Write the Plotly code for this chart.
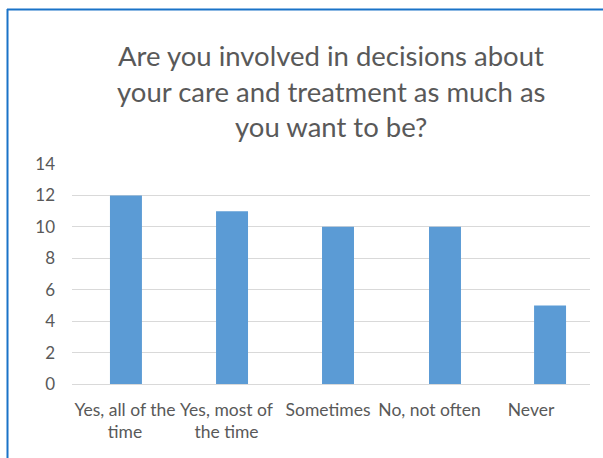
import plotly.graph_objects as go

# Survey responses
categories = ["Yes, all of the<br>time", "Yes, most of<br>the time", "Sometimes", "No, not often", "Never"]
counts = [12, 11, 10, 10, 5]
y_ticks = [0, 2, 4, 6, 8, 10, 12, 14]
title_lines = [
    "Are you involved in decisions about",
    "your care and treatment as much as",
    "you want to be?",
]

# Horizontal shift of each bar relative to its label (axis units)
bar_shift = [-0.148, -0.103, -0.059, -0.005, 0.030]

W, H = 603, 458
L, R, T, B = 72, 13, 164, 74
TEXT = "#595959"
GRID = "#d9d9d9"
FONT = "Lato, 'Open Sans', sans-serif"

positions = list(range(len(categories)))

fig = go.Figure(
    go.Bar(
        x=positions,
        y=counts,
        width=0.315,
        offset=bar_shift,
        marker=dict(color="#5b9bd5", line=dict(width=0)),
        hoverinfo="skip",
    )
)

fig.update_layout(
    width=W,
    height=H,
    margin=dict(l=L, r=R, t=T, b=B),
    paper_bgcolor="white",
    plot_bgcolor="white",
    showlegend=False,
    font=dict(family=FONT, color=TEXT),
)

fig.update_xaxes(
    range=[-0.522, 4.581],
    tickmode="array",
    tickvals=positions,
    ticktext=categories,
    tickfont=dict(size=17.5, color=TEXT, family=FONT),
    showgrid=False,
    zeroline=False,
    showline=False,
    ticks="",
    ticklabelstandoff=13,
    fixedrange=True,
)
fig.update_yaxes(
    range=[0, 14],
    tickmode="array",
    tickvals=y_ticks,
    tickfont=dict(size=17, color=TEXT, family=FONT),
    showgrid=True,
    gridcolor=GRID,
    gridwidth=1,
    zeroline=True,
    zerolinecolor=GRID,
    zerolinewidth=1,
    showline=False,
    ticks="",
    ticklabelstandoff=16,
    fixedrange=True,
)

# Title as three centred lines
plot_w = W - L - R
plot_h = H - T - B
for line, baseline in zip(title_lines, [67, 103, 138]):
    fig.add_annotation(
        text=line,
        xref="paper", yref="paper",
        x=(331 - L) / plot_w,
        y=(H - B - baseline) / plot_h,
        xanchor="center", yanchor="bottom",
        yshift=-7,
        showarrow=False,
        font=dict(size=27.5, color=TEXT, family=FONT),
    )

# Selection frame along the top and left edges
def px_x(px):
    return (px - L) / plot_w

def px_y(py):
    return (H - B - py) / plot_h

frame = "#1a73c8"
fig.add_shape(type="line", xref="paper", yref="paper",
              x0=px_x(7), x1=px_x(W + 5), y0=px_y(9.5), y1=px_y(9.5),
              line=dict(color=frame, width=2))
fig.add_shape(type="line", xref="paper", yref="paper",
              x0=px_x(7.5), x1=px_x(7.5), y0=px_y(9), y1=px_y(H + 5),
              line=dict(color=frame, width=2))

fig.write_html("out.html")
